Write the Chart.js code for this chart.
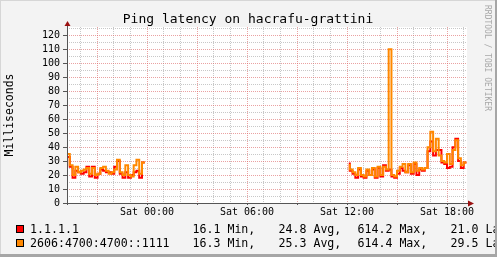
<!DOCTYPE html>
<html>
<head>
<meta charset="utf-8">
<script src="https://cdn.jsdelivr.net/npm/chart.js@4/dist/chart.umd.min.js"></script>
<style>
  html, body { margin: 0; padding: 0; background: #f3f3f3; }
  canvas { display: block; }
</style>
</head>
<body>
<canvas id="ping" width="497" height="257"></canvas>
<script>
// time is in hours relative to Sat 00:00, rrd step is 10 minutes
const stepHours = 10 / 60;
const viewStart = -4.8;
const viewEnd = 19.2;
const seg1Start = -4.8;
const seg2Start = 12 + 10 / 60;

// 1.1.1.1
const cfSeg1 = [20, 33, 26, 18, 23, 22, 21, 22, 26, 19, 26, 18, 21, 24, 23, 22, 22, 21, 26, 30, 21, 18, 22, 18, 20, 22, 23, 18, 29];
const cfSeg2 = [29, 23, 21, 18, 24, 19, 18, 23, 20, 24, 18, 25, 19, 27, 23, 24, 19, 18, 21, 25, 23, 22, 27, 21, 28, 20, 24, 23, 25, 37, 44, 34, 38, 38, 29, 28, 25, 26, 40, 46, 30, 25, 29];
// 2606:4700:4700::1111
const v6Seg1 = [25, 35, 27, 20, 26, 22, 23, 24, 25, 21, 25, 20, 21, 25, 26, 23, 21, 22, 24, 31, 22, 20, 27, 20, 19, 27, 31, 21, 29];
const v6Seg2 = [28, 24, 22, 20, 25, 20, 19, 24, 20, 25, 19, 26, 20, 26, 24, 110, 20, 19, 23, 26, 28, 22, 28, 22, 29, 23, 25, 24, 25, 40, 51, 37, 46, 34, 30, 29, 35, 28, 38, 45, 32, 27, 29];

const seriesNames = ['1.1.1.1', '2606:4700:4700::1111'];
const seriesColors = ['#ff0000', '#ff8800'];
const statMin = ['16.1', '16.3'];
const statAvg = ['24.8', '25.3'];
const statMax = ['614.2', '614.4'];
const statLast = ['21.0', '29.5'];

const xLabelHours = [0, 6, 12, 18];
const xTickLabels = ['Sat 00:00', 'Sat 06:00', 'Sat 12:00', 'Sat 18:00'];
const yMax = 126;

const MONO = '"DejaVu Sans Mono", monospace';
const MAJOR = 'rgba(220, 100, 100, 0.6)';
const MINOR = '#c8c8c8';

function buildSeries(a, b) {
  const pts = a.map((v, i) => ({x: seg1Start + i * stepHours, y: v}));
  pts.push({x: (seg1Start + a.length * stepHours + seg2Start) / 2, y: null});
  b.forEach((v, i) => pts.push({x: seg2Start + i * stepHours, y: v}));
  return pts;
}

const rrdDecor = {
  id: 'rrdDecor',
  beforeDraw(chart) {
    const {ctx, chartArea: a} = chart;
    ctx.save();
    ctx.fillStyle = '#f3f3f3';
    ctx.fillRect(0, 0, chart.width, chart.height);
    ctx.fillStyle = '#ffffff';
    ctx.fillRect(a.left, a.top, a.right - a.left, a.bottom - a.top);
    ctx.restore();
  },
  afterDraw(chart) {
    const {ctx, chartArea: a} = chart;
    ctx.save();

    // axes with arrows
    ctx.strokeStyle = '#555';
    ctx.lineWidth = 1;
    ctx.beginPath();
    ctx.moveTo(a.left + 0.5, a.bottom + 2);
    ctx.lineTo(a.left + 0.5, a.top - 3);
    ctx.moveTo(a.left - 2, a.bottom + 0.5);
    ctx.lineTo(a.right + 3, a.bottom + 0.5);
    ctx.stroke();
    ctx.fillStyle = '#9b1111';
    ctx.beginPath();
    ctx.moveTo(a.left + 0.5, a.top - 6);
    ctx.lineTo(a.left - 2.5, a.top - 1);
    ctx.lineTo(a.left + 3.5, a.top - 1);
    ctx.closePath();
    ctx.fill();
    ctx.beginPath();
    ctx.moveTo(a.right + 7, a.bottom + 0.5);
    ctx.lineTo(a.right + 1, a.bottom - 2.5);
    ctx.lineTo(a.right + 1, a.bottom + 3.5);
    ctx.closePath();
    ctx.fill();

    // title
    ctx.fillStyle = '#000';
    ctx.font = '13px ' + MONO;
    ctx.textAlign = 'center';
    ctx.textBaseline = 'alphabetic';
    ctx.fillText('Ping latency on hacrafu-grattini', 248, 23);

    // vertical label
    ctx.save();
    ctx.translate(10.5, (a.top + a.bottom) / 2);
    ctx.rotate(-Math.PI / 2);
    ctx.font = '11.5px ' + MONO;
    ctx.textBaseline = 'middle';
    ctx.fillText('Milliseconds', 0, 0);
    ctx.restore();

    // watermark
    ctx.save();
    ctx.translate(487.5, 5);
    ctx.rotate(Math.PI / 2);
    ctx.font = '8px ' + MONO;
    ctx.fillStyle = '#a8a8a8';
    ctx.textAlign = 'left';
    ctx.textBaseline = 'middle';
    ctx.fillText('RRDTOOL / TOBI OETIKER', 0, 0);
    ctx.restore();

    // legend with stats
    ctx.font = '11.6px ' + MONO;
    ctx.textAlign = 'left';
    ctx.textBaseline = 'alphabetic';
    seriesNames.forEach((name, i) => {
      const base = 233 + i * 14;
      ctx.fillStyle = seriesColors[i];
      ctx.fillRect(16, base - 8, 8, 8);
      ctx.strokeStyle = '#000';
      ctx.lineWidth = 1;
      ctx.strokeRect(16.5, base - 7.5, 7, 7);
      ctx.fillStyle = '#000';
      ctx.fillText(name, 30, base);
      ctx.fillText(statMin[i] + ' Min,', 192.5, base);
      ctx.fillText(statAvg[i] + ' Avg,', 278.5, base);
      ctx.fillText(statMax[i] + ' Max,', 357.5, base);
      ctx.fillText(statLast[i] + ' Last', 450.5, base);
    });

    // 3d frame
    ctx.fillStyle = '#d6d6d6';
    ctx.fillRect(0, 0, chart.width, 1);
    ctx.fillRect(0, 0, 1, chart.height);
    ctx.fillStyle = '#a6a6a6';
    ctx.fillRect(chart.width - 2, 0, 2, chart.height);
    ctx.fillRect(0, chart.height - 3, chart.width, 3);
    ctx.restore();
  }
};

new Chart(document.getElementById('ping'), {
  type: 'line',
  data: {
    datasets: [
      {
        label: seriesNames[0],
        data: buildSeries(cfSeg1, cfSeg2),
        borderColor: seriesColors[0],
        borderWidth: 2,
        stepped: 'after',
        pointRadius: 0,
        spanGaps: false,
        order: 2
      },
      {
        label: seriesNames[1],
        data: buildSeries(v6Seg1, v6Seg2),
        borderColor: seriesColors[1],
        borderWidth: 2,
        stepped: 'after',
        pointRadius: 0,
        spanGaps: false,
        order: 1
      }
    ]
  },
  options: {
    responsive: false,
    animation: false,
    devicePixelRatio: 1,
    layout: {padding: {top: 27, right: 30, left: 0, bottom: 0}},
    plugins: {
      legend: {display: false},
      tooltip: {enabled: false},
      title: {display: false}
    },
    scales: {
      x: {
        type: 'linear',
        min: viewStart,
        max: viewEnd,
        afterBuildTicks(s) {
          const t = [];
          for (let h = Math.ceil(viewStart); h <= Math.floor(viewEnd); h++) t.push({value: h});
          s.ticks = t;
        },
        afterFit(s) {
          s.height = 54;
          s.paddingLeft = 0;
          s.paddingRight = 0;
        },
        ticks: {
          autoSkip: false,
          maxRotation: 0,
          padding: 1,
          color: '#000',
          font: {family: MONO, size: 10},
          callback: v => {
            const i = xLabelHours.indexOf(v);
            return i >= 0 ? xTickLabels[i] : '';
          }
        },
        grid: {
          color: c => (c.tick && c.tick.value % 3 === 0 ? MAJOR : MINOR),
          lineWidth: 1,
          tickLength: 2,
          tickColor: c => (c.tick && c.tick.value % 3 === 0 ? '#555' : 'rgba(0,0,0,0)')
        },
        border: {display: false, dash: [1, 1]}
      },
      y: {
        min: 0,
        max: yMax,
        afterBuildTicks(s) {
          const t = [];
          for (let v = 0; v <= yMax; v += 5) t.push({value: v});
          s.ticks = t;
        },
        afterFit(s) {
          s.width = 67;
          s.paddingTop = 0;
          s.paddingBottom = 0;
        },
        ticks: {
          autoSkip: false,
          padding: 3,
          color: '#000',
          font: {family: MONO, size: 10},
          callback: v => (v % 10 === 0 ? String(v) : '')
        },
        grid: {
          color: c => (c.tick && c.tick.value % 10 === 0 ? MAJOR : MINOR),
          lineWidth: 1,
          tickLength: 4,
          tickColor: c => (c.tick && c.tick.value % 10 === 0 ? '#555' : 'rgba(0,0,0,0)')
        },
        border: {display: false, dash: [1, 1]}
      }
    }
  },
  plugins: [rrdDecor]
});
</script>
</body>
</html>
